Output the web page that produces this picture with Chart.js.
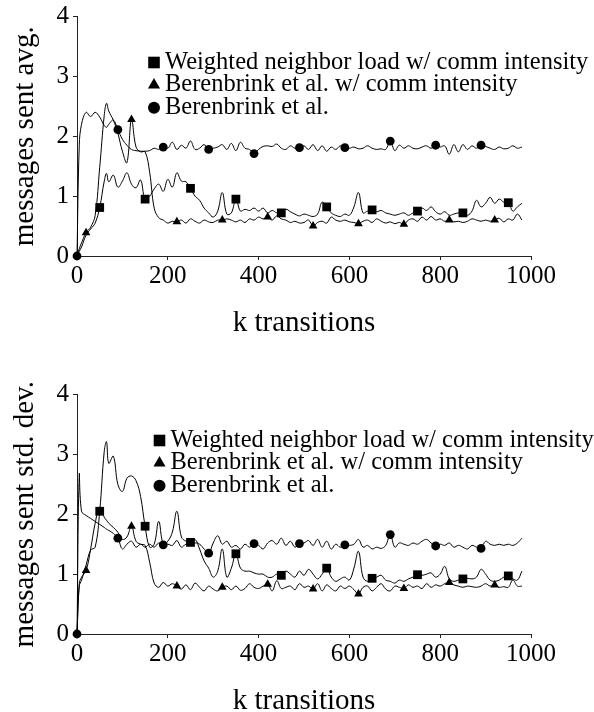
<!DOCTYPE html>
<html>
<head>
<meta charset="utf-8">
<script src="https://cdn.jsdelivr.net/npm/chart.js@4.4.0/dist/chart.umd.min.js"></script>
<style>
  html, body { margin: 0; padding: 0; background: #fff; overflow: hidden; }
  .box { position: absolute; left: 0; width: 594px; height: 356px; }
  #top { top: 0; }
  #bottom { top: 378px; }
</style>
</head>
<body>
<div class="box" id="top"><canvas id="avgChart" width="594" height="356"></canvas></div>
<div class="box" id="bottom"><canvas id="stdChart" width="594" height="356"></canvas></div>
<script>
// k transitions (x values shared by every series)
const kTransitions = [0, 5, 10, 20, 30, 40, 50, 60, 65, 70, 80, 90,
  100, 110, 120, 130, 140, 150, 160, 170, 180, 190,
  200, 210, 220, 230, 240, 250, 260, 270, 280, 290,
  300, 310, 320, 330, 340, 350, 360, 370, 380, 390,
  400, 410, 420, 430, 440, 450, 460, 470, 480, 490,
  500, 510, 520, 530, 540, 550, 560, 570, 580, 590,
  600, 610, 620, 630, 640, 650, 660, 670, 680, 690,
  700, 710, 720, 730, 740, 750, 760, 770, 780, 790,
  800, 810, 820, 830, 840, 850, 860, 870, 880, 890,
  900, 910, 920, 930, 940, 950, 960, 970, 980];

const seriesNames = ['Weighted neighbor load w/ comm intensity', 'Berenbrink et al. w/ comm intensity', 'Berenbrink et al.'];
const xTicks = [0, 200, 400, 600, 800, 1000];
const yTicks = [0, 1, 2, 3, 4];

// messages sent avg.
const avgWeighted = [0, 0.08, 0.15, 0.35, 0.45, 0.55, 0.81, 1.25, 1.38, 1.24, 1.35, 1.15,
  1.25, 1.39, 1.2, 1.14, 1.27, 0.95, 1.0, 1.12, 1.2, 1.08,
  1.28, 1.15, 1.39, 1.25, 1.24, 1.13, 1.0, 0.93, 0.8, 0.72,
  0.65, 0.75, 1.06, 0.7, 0.72, 0.95, 0.75, 0.78, 0.76, 0.8,
  0.75, 0.8, 0.72, 0.76, 0.72, 0.72, 0.78, 0.74, 0.7, 0.67,
  0.7, 0.68, 0.66, 0.7, 0.9, 0.82, 0.72, 0.68, 0.66, 0.7,
  0.68, 0.82, 1.06, 0.72, 0.75, 0.77, 0.74, 0.76, 0.72, 0.7,
  0.68, 0.7, 0.72, 0.68, 0.72, 0.75, 0.8, 0.76, 0.82, 0.74,
  0.7, 0.74, 0.68, 0.7, 0.72, 0.72, 0.68, 0.75, 0.93, 0.82,
  0.88, 0.98, 0.88, 0.95, 0.9, 0.89, 0.75, 0.82, 0.88];
const avgBerenbrinkComm = [0, 0.12, 0.22, 0.39, 0.48, 0.68, 1.48, 2.35, 2.55, 2.42, 2.27, 2.05,
  1.75, 1.56, 2.28, 1.82, 1.74, 1.74, 1.4, 0.8, 0.64, 0.6,
  0.55, 0.58, 0.57, 0.6, 0.55, 0.62, 0.58, 0.55, 0.6, 0.57,
  0.56, 0.6, 0.6, 0.62, 0.6, 0.57, 0.6, 0.56, 0.62, 0.6,
  0.65, 0.62, 0.65, 0.6, 0.67, 0.62, 0.6, 0.56, 0.58, 0.55,
  0.56, 0.6, 0.5, 0.56, 0.58, 0.55, 0.65, 0.6, 0.58, 0.6,
  0.57, 0.56, 0.54, 0.58, 0.6, 0.56, 0.62, 0.58, 0.55, 0.57,
  0.54, 0.56, 0.53, 0.6, 0.62, 0.58, 0.65, 0.6, 0.66, 0.6,
  0.62, 0.58, 0.6, 0.57, 0.58, 0.56, 0.58, 0.62, 0.6, 0.58,
  0.6, 0.58, 0.6, 0.63, 0.57, 0.62, 0.6, 0.7, 0.6];
const avgBerenbrink = [0, 1.85, 2.2, 2.4, 2.33, 2.4, 2.32, 2.18, 2.15, 2.2, 2.27, 2.11,
  1.95, 1.85, 1.78, 1.76, 1.75, 1.75, 1.76, 1.8, 1.78, 1.82,
  1.8, 1.9, 1.78, 1.85, 1.8, 1.92, 1.78, 1.8, 1.86, 1.78,
  1.8, 1.82, 1.86, 1.78, 1.88, 1.76, 1.9, 1.8, 1.78, 1.71,
  1.78, 1.83, 1.84, 1.83, 1.87, 1.8, 1.78, 1.84, 1.8, 1.81,
  1.84, 1.78, 1.86, 1.76, 1.84, 1.75, 1.82, 1.78, 1.84, 1.81,
  1.8, 1.82, 1.79, 1.8, 1.84, 1.8, 1.78, 1.79, 1.78, 1.92,
  1.76, 1.85, 1.8, 1.84, 1.8, 1.79, 1.82, 1.84, 1.8, 1.85,
  1.82, 1.84, 1.7, 1.86, 1.74, 1.86, 1.78, 1.84, 1.8, 1.85,
  1.83, 1.8, 1.78, 1.82, 1.79, 1.8, 1.84, 1.8, 1.82];

// messages sent std. dev.
const stdWeighted = [0, 0.8, 0.9, 1.15, 1.4, 1.45, 2.05, 3.05, 3.21, 2.85, 2.97, 2.5,
  2.38, 2.6, 2.64, 2.56, 2.3, 1.8, 1.45, 1.5, 1.88, 1.5,
  1.55, 1.7, 2.05, 1.62, 1.55, 1.53, 1.58, 1.42, 1.22, 1.1,
  0.95, 1.05, 1.42, 0.95, 1.1, 1.34, 1.1, 1.05, 1.05, 1.02,
  1.0, 1.0, 0.95, 0.95, 1.0, 0.98, 1.05, 1.0, 0.95, 1.05,
  0.98, 1.08, 1.0, 0.92, 1.0, 1.1, 0.95, 0.88, 0.92, 0.95,
  0.9, 1.1, 1.38, 0.95, 0.88, 0.93, 0.95, 0.98, 0.9, 0.88,
  0.85, 0.9, 0.88, 0.92, 0.95, 0.99, 0.98, 1.0, 1.02, 0.95,
  1.0, 1.13, 0.92, 0.88, 0.9, 0.92, 0.93, 0.92, 0.95, 1.08,
  1.0, 0.9, 0.88, 0.9, 0.95, 0.97, 0.92, 0.9, 1.05];
const stdBerenbrinkComm = [0, 0.84, 0.95, 1.06, 1.42, 1.85, 2.12, 1.95, 1.9, 1.85, 1.78, 1.7,
  1.58, 1.62, 1.8, 1.55, 1.5, 1.48, 1.2, 0.85, 0.78, 0.86,
  0.8, 0.84, 0.8, 0.75, 0.82, 0.74, 0.85, 0.78, 0.72, 0.8,
  0.75, 0.72, 0.78, 0.8, 0.74, 0.8, 0.73, 0.76, 0.84, 0.78,
  0.76, 0.8, 0.83, 0.72, 0.89, 0.76, 0.78, 0.8, 0.74, 0.84,
  0.78, 0.8, 0.75, 0.84, 0.72, 0.82, 0.76, 0.72, 0.8, 0.76,
  0.8, 0.74, 0.67, 0.78, 0.8, 0.72, 0.78, 0.84, 0.75, 0.72,
  0.8, 0.78, 0.76, 0.82, 0.78, 0.8, 0.76, 0.84, 0.78, 0.82,
  0.8, 0.84, 0.86, 0.82, 0.8, 0.78, 0.8, 0.79, 0.78, 0.8,
  0.84, 0.8, 0.82, 0.78, 0.79, 0.78, 0.9, 0.8, 0.8];
const stdBerenbrink = [0, 2.66, 2.05, 1.98, 1.93, 1.88, 1.83, 1.78, 1.75, 1.73, 1.68, 1.6,
  1.42, 1.5, 1.55, 1.45, 1.5, 1.45, 1.5, 1.45, 1.52, 1.49,
  1.5, 1.48, 1.56, 1.45, 1.5, 1.48, 1.52, 1.5, 1.42, 1.35,
  1.52, 1.64, 1.5, 1.55, 1.45, 1.48, 1.42, 1.5, 1.45, 1.51,
  1.48, 1.42, 1.52, 1.56, 1.5, 1.6, 1.48, 1.55, 1.45, 1.51,
  1.52, 1.56, 1.48, 1.58, 1.45, 1.55, 1.42, 1.5, 1.45, 1.49,
  1.48, 1.5, 1.58, 1.45, 1.48, 1.42, 1.45, 1.43, 1.48, 1.66,
  1.45, 1.52, 1.5, 1.48, 1.52, 1.5, 1.55, 1.58, 1.52, 1.47,
  1.5, 1.48, 1.52, 1.45, 1.48, 1.45, 1.42, 1.48, 1.45, 1.43,
  1.55, 1.5, 1.48, 1.5, 1.48, 1.5, 1.48, 1.52, 1.6];

// mark every 100 k transitions, with a different phase per series
const markStyles = [
  { style: 'rect', phase: 50, radius: 6.2, legendRadius: 8.2, first: false },
  { style: 'triangle', phase: 20, radius: 5, legendRadius: 7, first: false },
  { style: 'circle', phase: 90, radius: 4.4, legendRadius: 6, first: true },
];

const insideLegend = {
  id: 'insideLegend',
  afterDatasetsDraw(chart, args, opts) {
    const {ctx, chartArea} = chart;
    ctx.save();
    ctx.fillStyle = '#000';
    ctx.font = opts.font;
    ctx.textBaseline = 'alphabetic';
    chart.data.datasets.forEach((ds, i) => {
      const y = chartArea.top + opts.top + i * opts.gap;
      Chart.helpers.drawPoint(ctx, {pointStyle: markStyles[i].style, radius: markStyles[i].legendRadius, borderWidth: 0, rotation: 0}, opts.x, y);
      ctx.fillText(ds.label, opts.x + 11, y + 6);
    });
    ctx.restore();
  }
};

Chart.defaults.font.family = '"Liberation Serif", serif';
Chart.defaults.color = '#000';

function makeChart(id, yTitle, values, legendX) {
  const ctx = document.getElementById(id).getContext('2d');
  return new Chart(ctx, {
    type: 'line',
    data: {
      datasets: values.map((vals, i) => {
        const m = markStyles[i];
        return {
          label: seriesNames[i],
          data: kTransitions.map((x, j) => ({x: x, y: vals[j]})),
          borderColor: '#000',
          borderWidth: 1,
          backgroundColor: '#000',
          pointStyle: m.style,
          pointRadius: kTransitions.map(x => (x % 100 === m.phase || (m.first && x === 0)) ? m.radius : 0),
          pointBorderWidth: 0,
          pointHoverRadius: 0,
          tension: 0.4,
          clip: false,
        };
      }),
    },
    options: {
      responsive: false,
      animation: false,
      events: [],
      layout: { padding: { top: 14, right: 63, left: 0, bottom: 0 } },
      plugins: {
        legend: { display: false },
        tooltip: { enabled: false },
        insideLegend: { x: legendX, top: 46, gap: 22.6, font: '24.5px "Liberation Serif"' },
      },
      scales: {
        x: {
          type: 'linear',
          min: 0, max: 1000,
          afterFit(scale) { scale.height = 100; },
          afterBuildTicks(scale) { scale.ticks = xTicks.map(v => ({value: v})); },
          ticks: { font: { size: 25, lineHeight: 1 }, padding: 4, maxRotation: 0, callback: v => String(v) },
          grid: { drawOnChartArea: false, tickLength: 4, color: '#222' },
          border: { color: '#222', width: 1 },
          title: { display: true, text: 'k transitions', font: { size: 29 }, padding: { top: 0, bottom: 15.5 } },
        },
        y: {
          min: 0, max: 4,
          afterFit(scale) { scale.width = 77; },
          afterBuildTicks(scale) { scale.ticks = yTicks.map(v => ({value: v})); },
          ticks: { font: { size: 25, lineHeight: 1 }, padding: 4, callback: v => String(v) },
          grid: { drawOnChartArea: false, tickLength: 4, color: '#222' },
          border: { color: '#222', width: 1 },
          title: { display: true, text: yTitle, font: { size: 29 }, padding: { top: 7.5, bottom: 0 } },
        },
      },
    },
    plugins: [insideLegend],
  });
}

makeChart('avgChart', 'messages sent avg.', [avgWeighted, avgBerenbrinkComm, avgBerenbrink], 154);
makeChart('stdChart', 'messages sent std. dev.', [stdWeighted, stdBerenbrinkComm, stdBerenbrink], 159.5);
</script>
</body>
</html>
